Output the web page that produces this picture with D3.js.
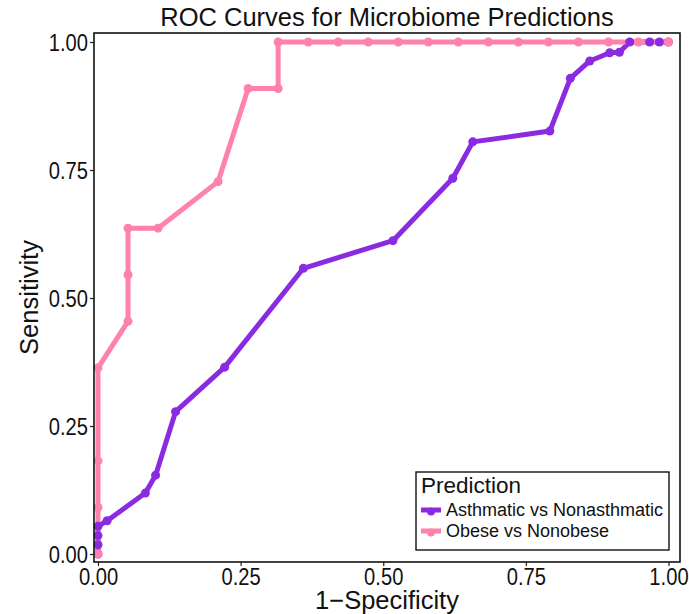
<!DOCTYPE html>
<html>
<head>
<meta charset="utf-8">
<script src="https://cdn.jsdelivr.net/npm/d3@7"></script>
<style>
  body { margin: 0; background: #fff; }
  text { font-family: "Liberation Sans", Arial, sans-serif; fill: #111; }
</style>
</head>
<body>
<div id="my_dataviz"></div>
<script>
// ROC points
var asthmaFpr = [0, 0, 0, 0, 0.016, 0.083, 0.101, 0.136, 0.222, 0.360, 0.517, 0.622, 0.657, 0.792, 0.828, 0.862, 0.897, 0.914, 0.932, 0.967, 0.984, 1.0];
var asthmaTpr = [0, 0.018, 0.036, 0.054, 0.065, 0.119, 0.154, 0.278, 0.365, 0.558, 0.612, 0.734, 0.805, 0.826, 0.929, 0.963, 0.979, 0.980, 1.0, 1.0, 1.0, 1.0];

var obeseFpr = [0, 0, 0, 0, 0.0526, 0.0526, 0.0526, 0.1053, 0.2105, 0.2632, 0.3158, 0.3158, 0.3684, 0.4211, 0.4737, 0.5263, 0.5789, 0.6316, 0.6842, 0.7368, 0.7895, 0.8421, 0.8947, 0.9474, 1.0];
var obeseTpr = [0, 0.0909, 0.1818, 0.3636, 0.4545, 0.5455, 0.6364, 0.6364, 0.7273, 0.9091, 0.9091, 1.0, 1.0, 1.0, 1.0, 1.0, 1.0, 1.0, 1.0, 1.0, 1.0, 1.0, 1.0, 1.0, 1.0];

var seriesNames = ["Asthmatic vs Nonasthmatic", "Obese vs Nonobese"];
var seriesColors = ["#8a2be2", "#ff82ab"];
var tickValues = [0, 0.25, 0.5, 0.75, 1];

var series = [
  { name: seriesNames[0], pts: asthmaFpr.map(function (x, i) { return { x: x, y: asthmaTpr[i] }; }) },
  { name: seriesNames[1], pts: obeseFpr.map(function (x, i) { return { x: x, y: obeseTpr[i] }; }) }
];

var W = 689, H = 614;
var panel = { left: 94, right: 680, top: 33, bottom: 562 };

var svg = d3.select("#my_dataviz")
  .append("svg")
    .attr("width", W)
    .attr("height", H);

var x = d3.scaleLinear()
  .domain([-0.0070, 1.0202])
  .range([panel.left, panel.right]);

var y = d3.scaleLinear()
  .domain([-0.0156, 1.0176])
  .range([panel.bottom, panel.top]);

var color = d3.scaleOrdinal().domain(seriesNames).range(seriesColors);

// title
svg.append("text")
  .attr("x", (panel.left + panel.right) / 2)
  .attr("y", 26)
  .attr("text-anchor", "middle")
  .style("font-size", "25.5px")
  .text("ROC Curves for Microbiome Predictions");

// axes
var fmt = d3.format(".2f");

var xAxis = svg.append("g")
  .attr("transform", "translate(0," + panel.bottom + ")")
  .call(d3.axisBottom(x).tickValues(tickValues).tickFormat(fmt).tickSizeOuter(0).tickSize(4).tickPadding(3));

var yAxis = svg.append("g")
  .attr("transform", "translate(" + panel.left + ",0)")
  .call(d3.axisLeft(y).tickValues(tickValues).tickFormat(fmt).tickSizeOuter(0).tickSize(4).tickPadding(2));

[xAxis, yAxis].forEach(function (ax) {
  ax.select(".domain").remove();
  ax.selectAll(".tick line").attr("stroke", "#222").attr("stroke-width", 1.2);
  ax.selectAll(".tick text")
    .style("font-size", "24px")
    .attr("fill", "#1a1a1a");
});
// the tick labels in the picture are a bit condensed
yAxis.selectAll(".tick text").attr("dy", "0.36em").attr("transform", "scale(0.84,1)").attr("x", -7.2);
xAxis.selectAll(".tick text").attr("dy", "0.66em").attr("transform", "scale(0.84,1)");

// axis titles
svg.append("text")
  .attr("x", (panel.left + panel.right) / 2)
  .attr("y", 609)
  .attr("text-anchor", "middle")
  .style("font-size", "25.5px")
  .text("1\u2212Specificity");

svg.append("text")
  .attr("transform", "translate(38," + (panel.top + panel.bottom) / 2 + ") rotate(-90)")
  .attr("text-anchor", "middle")
  .style("font-size", "25.5px")
  .text("Sensitivity");

// lines first, then points (like ggplot layers)
var line = d3.line()
  .x(function (d) { return x(d.x); })
  .y(function (d) { return y(d.y); });

svg.append("g").selectAll("path")
  .data(series)
  .enter().append("path")
    .attr("d", function (d) { return line(d.pts); })
    .attr("fill", "none")
    .attr("stroke", function (d) { return color(d.name); })
    .attr("stroke-width", 5)
    .attr("stroke-linejoin", "round");

var pts = svg.append("g").selectAll("g")
  .data(series)
  .enter().append("g")
    .attr("fill", function (d) { return color(d.name); });

pts.selectAll("circle")
  .data(function (d) { return d.pts; })
  .enter().append("circle")
    .attr("cx", function (d) { return x(d.x); })
    .attr("cy", function (d) { return y(d.y); })
    .attr("r", 4.5);

// panel border
svg.append("rect")
  .attr("x", panel.left)
  .attr("y", panel.top)
  .attr("width", panel.right - panel.left)
  .attr("height", panel.bottom - panel.top)
  .attr("fill", "none")
  .attr("stroke", "#111")
  .attr("stroke-width", 1.6);

// legend
var legend = svg.append("g").attr("transform", "translate(416,472)");

legend.append("rect")
  .attr("width", 253)
  .attr("height", 78)
  .attr("fill", "#fff")
  .attr("stroke", "#111")
  .attr("stroke-width", 1.4);

legend.append("text")
  .attr("x", 5)
  .attr("y", 21)
  .style("font-size", "22.5px")
  .text("Prediction");

var key = legend.selectAll(".key")
  .data(seriesNames)
  .enter().append("g")
    .attr("class", "key")
    .attr("transform", function (d, i) { return "translate(0," + (38 + i * 21) + ")"; });

key.append("line")
  .attr("x1", 5).attr("x2", 25)
  .attr("stroke", function (d) { return color(d); })
  .attr("stroke-width", 5);

key.append("circle")
  .attr("cx", 15).attr("cy", 1.5)
  .attr("r", 4)
  .attr("fill", function (d) { return color(d); });

key.append("text")
  .attr("x", 30)
  .attr("y", 6)
  .style("font-size", "18px")
  .text(function (d) { return d; });
</script>
</body>
</html>
